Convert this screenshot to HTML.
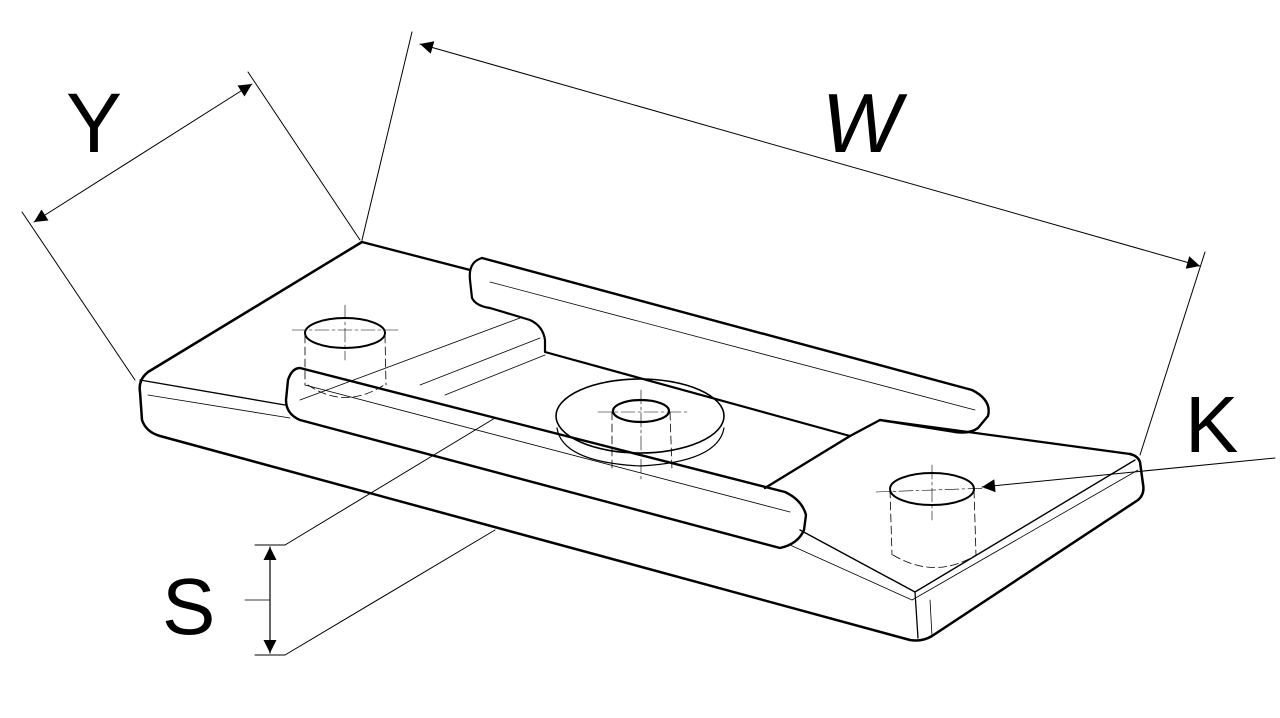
<!DOCTYPE html>
<html><head><meta charset="utf-8"><style>
html,body{margin:0;padding:0;background:#fff;width:1280px;height:718px;overflow:hidden}
svg{display:block}
text{font-family:"Liberation Sans",sans-serif;fill:#000}
</style></head><body>
<svg width="1280" height="718" viewBox="0 0 1280 718" xmlns="http://www.w3.org/2000/svg">
<defs>
<marker id="a" viewBox="0 0 10 10" refX="10" refY="5" markerWidth="36" markerHeight="13" orient="auto-start-reverse" markerUnits="userSpaceOnUse"><path d="M0,0 L10,5 L0,10 z" fill="#000"/></marker>
</defs>
<g fill="none" stroke="#000" stroke-linecap="round" stroke-linejoin="round">
<path d="M362,242 L148,372 Q138,380 140,392 L142,420 Q146,432 160,436 L910,640 Q922,642 932,636 L1138,500 Q1145,494 1143,484 L1140,462 Q1138,456 1130,454" stroke-width="2.5"/>
<path d="M362,242 L470,270" stroke-width="2.3"/>
<path d="M880,420 L1130,454" stroke-width="2.3"/>
<path d="M140,380 L285,405" stroke-width="1.3"/>
<path d="M800,530 L915,592 L1135,460" stroke-width="1.4"/>
<path d="M915,592 L918,638" stroke-width="1.3"/>
<path d="M148,395 L290,418" stroke-width="0.8"/>
<path d="M790,545 L912,600 L1138,470" stroke-width="0.8"/>
<path d="M930,600 L932,636" stroke-width="0.8"/>
<path d="M300,400 L520,318 M420,385 L540,338 M445,395 L545,355" stroke-width="0.8"/>
<path d="M482,258 L972,390 Q992,400 988,416 L978,428 Q970,434 955,432 L880,420 L850,436 L765,488" stroke-width="2.4"/>
<path d="M482,258 Q468,262 470,280 L472,298 Q476,306 490,308 L530,320 Q543,326 545,340 L545,352 L850,436" stroke-width="2.2"/>
<path d="M490,282 L975,410" stroke-width="0.8"/>
<path d="M300,368 L785,492 Q802,500 806,515 L804,530 Q798,544 780,548 L300,420 Q286,414 286,400 L288,380 Q292,368 300,368 Z" stroke-width="2.4"/>
<path d="M305,385 L790,512" stroke-width="0.8"/>
<ellipse cx="640" cy="416" rx="84" ry="37" stroke-width="1.6"/>
<path d="M557,428 Q562,462 640,466 Q718,462 724,428" stroke-width="1.2"/>
<ellipse cx="641" cy="411" rx="28" ry="11" stroke-width="2.2"/>
<path d="M612,412 L612,470 M670,412 L672,470" stroke-width="0.8" stroke-dasharray="8,4"/>
<path d="M598,412 L690,412 M641,390 L641,480" stroke-width="0.6" stroke-dasharray="14,3,3,3"/>
<ellipse cx="345" cy="333" rx="40" ry="15" stroke-width="2"/>
<path d="M305,335 L305,385 M385,335 L386,385 M308,385 Q345,410 384,385" stroke-width="0.8" stroke-dasharray="8,4"/>
<path d="M292,330 L400,330 M345,305 L345,360" stroke-width="0.6" stroke-dasharray="14,3,3,3"/>
<ellipse cx="932" cy="489" rx="42" ry="16" stroke-width="2"/>
<path d="M890,490 L892,555 M974,490 L976,555 M893,555 Q935,580 976,555" stroke-width="0.8" stroke-dasharray="8,4"/>
<path d="M876,492 L990,488 M932,465 L932,520" stroke-width="0.6" stroke-dasharray="14,3,3,3"/>
<path d="M360,240 L248,72 M135,380 L22,212" stroke-width="1"/>
<path d="M34,222 L252,84" stroke-width="1" marker-start="url(#a)" marker-end="url(#a)"/>
<path d="M362,240 L412,32 M1140,455 L1205,252" stroke-width="1"/>
<path d="M420,44 L1200,266" stroke-width="1" marker-start="url(#a)" marker-end="url(#a)"/>
<path d="M1275,458 L982,487" stroke-width="1" marker-end="url(#a)"/>
<path d="M255,545 L285,545 L495,418 M255,655 L285,655 L495,530" stroke-width="1"/>
<path d="M270,547 L270,653" stroke-width="1.2" marker-start="url(#a)" marker-end="url(#a)"/>
<path d="M245,600 L270,600" stroke-width="0.8"/>
</g>
<text x="66" y="152" font-size="84">Y</text>
<text x="820" y="152" font-size="84" transform="skewX(-10) translate(25,0)">W</text>
<text x="1185" y="452" font-size="80">K</text>
<text x="162" y="634" font-size="80">S</text>
</svg>
</body></html>
